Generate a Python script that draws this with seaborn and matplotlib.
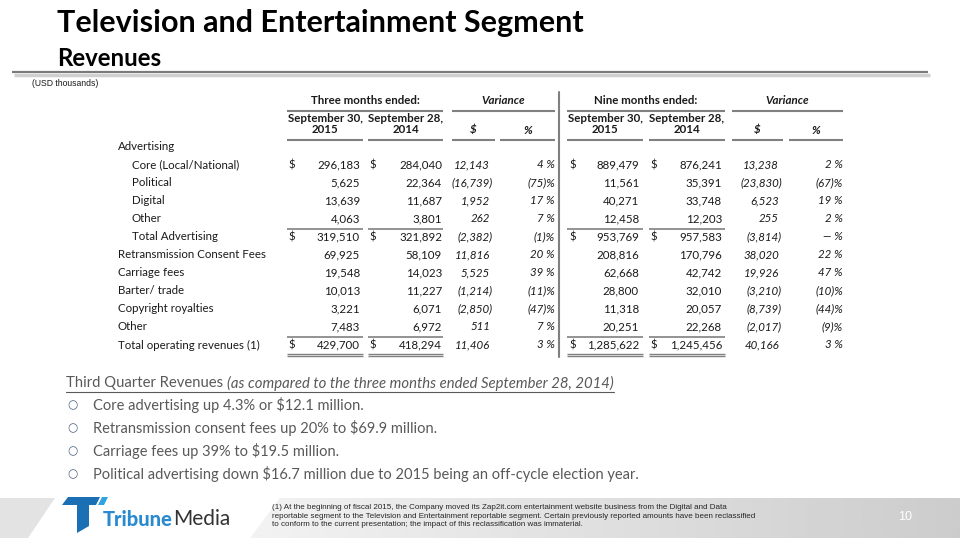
import numpy as np
import matplotlib
matplotlib.use("Agg")
import matplotlib.pyplot as plt
from matplotlib.patches import Polygon
import seaborn as sns

sns.set_theme(style="white")
plt.rcParams['font.family'] = ['Lato', 'DejaVu Sans']

# ---- data ----
advertising_items = ['Core (Local/National)', 'Political', 'Digital', 'Other', 'Total Advertising']
other_items = ['Retransmission Consent Fees', 'Carriage fees', 'Barter/ trade',
               'Copyright royalties', 'Other', 'Total operating revenues (1)']

q3_2015 = [296183, 5625, 13639, 4063, 319510, 69925, 19548, 10013, 3221, 7483, 429700]
q3_2014 = [284040, 22364, 11687, 3801, 321892, 58109, 14023, 11227, 6071, 6972, 418294]
q3_var = [12143, -16739, 1952, 262, -2382, 11816, 5525, -1214, -2850, 511, 11406]
q3_pct = [4, -75, 17, 7, -1, 20, 39, -11, -47, 7, 3]

ytd_2015 = [889479, 11561, 40271, 12458, 953769, 208816, 62668, 28800, 11318, 20251, 1285622]
ytd_2014 = [876241, 35391, 33748, 12203, 957583, 170796, 42742, 32010, 20057, 22268, 1245456]
ytd_var = [13238, -23830, 6523, 255, -3814, 38020, 19926, -3210, -8739, -2017, 40166]
ytd_pct = [2, -67, 19, 2, 0, 22, 47, -10, -44, -9, 3]

period_titles = ['Three months ended:', 'Nine months ended:']
col_titles = ['September 30,\n2015', 'September 28,\n2014', '$', '%']

bullet_heading = 'Third Quarter Revenues '
bullet_heading_note = '(as compared to the three months ended September 28, 2014)'
bullets = ['Core advertising up 4.3% or $12.1 million.',
           'Retransmission consent fees up 20% to $69.9 million.',
           'Carriage fees up 39% to $19.5 million.',
           'Political advertising down $16.7 million due to 2015 being an off-cycle election year.']

footnote = ('(1) At the beginning of fiscal 2015, the Company moved its Zap2it.com entertainment website business from the Digital and Data\n'
            'reportable segment to the Television and Entertainment reportable segment. Certain previously reported amounts have been reclassified\n'
            'to conform to the current presentation; the impact of this reclassification was immaterial.')

# ---- canvas ----
fig = plt.figure(figsize=(9.6, 5.4), dpi=100)
ax = fig.add_axes([0, 0, 1, 1])
ax.set_xlim(0, 960)
ax.set_ylim(540, 0)
ax.axis('off')

TXT = '#1a1a1a'
LINE = '#808080'

# title
ax.text(57, 23, 'Television and Entertainment Segment', fontsize=22, fontweight='bold', va='center', color='black')
ax.text(57, 58, 'Revenues', fontsize=17.3, fontweight='bold', va='center', color='black')
ax.plot([12, 928], [72, 72], color='#7a7a7a', lw=1.6, solid_capstyle='butt')
ax.plot([14, 930], [74.5, 74.5], color='#d0d0d0', lw=2.5, solid_capstyle='butt')
ax.text(32, 84, '(USD thousands)', fontsize=6.2, family=['Liberation Sans'], va='center', color=TXT)


def fmt_num(v):
    return f'({abs(v):,})' if v < 0 else f'{v:,}'


def fmt_pct(v):
    if v == 0:
        return '\u2014 %'
    if v < 0:
        return f'({abs(v)})%'
    return f'{v} %'


row_labels = ['Advertising'] + advertising_items + other_items
n_ad = len(advertising_items)
y0, dy = 147, 18
fs = 8.3

for i, lab in enumerate(row_labels):
    indent = 14 if 1 <= i <= n_ad else 0
    ax.text(118 + indent, y0 + i * dy, lab, fontsize=fs, va='center', color=TXT)

dollar_rows = [0] + [i for i, lab in enumerate(advertising_items + other_items) if lab.startswith('Total')]

panels = [
    (q3_2015, q3_2014, q3_var, q3_pct, dict(d1=288, v1=360, d2=369, v2=442, var=490, pct=555,
                                             lines=[(287, 363), (368, 443), (452, 495), (500, 555)],
                                             plines=[(287, 443), (452, 555)])),
    (ytd_2015, ytd_2014, ytd_var, ytd_pct, dict(d1=569, v1=639, d2=650, v2=722, var=779, pct=843,
                                                lines=[(567, 643), (649, 725), (732, 783), (789, 843)],
                                                plines=[(567, 725), (732, 843)])),
]

for p, (c15, c14, var, pct, g) in enumerate(panels):
    # headers
    (a0, a1), (b0, b1) = g['plines']
    ax.text((a0 + a1) / 2, 101, period_titles[p], fontsize=fs, fontweight='bold', ha='center', va='center', color=TXT)
    ax.text((b0 + b1) / 2, 101, 'Variance', fontsize=fs, fontweight='bold', style='italic', ha='center', va='center', color=TXT)
    for x0, x1 in g['plines']:
        ax.plot([x0, x1], [111, 111], color=LINE, lw=1.5, solid_capstyle='butt')
    for k, (x0, x1) in enumerate(g['lines']):
        ax.plot([x0, x1], [140, 140], color=LINE, lw=1.5, solid_capstyle='butt')
        if k < 2:
            ax.text((x0 + x1) / 2, 124, col_titles[k], fontsize=fs, fontweight='bold', ha='center', va='center',
                    color=TXT, linespacing=0.95)
        else:
            ax.text((x0 + x1) / 2, 130, col_titles[k], fontsize=fs, fontweight='bold', style='italic',
                    ha='center', va='center', color=TXT)
    # values
    for j in range(len(c15)):
        y = y0 + (j + 1) * dy
        if j in dollar_rows:
            ax.text(g['d1'], y, '$', fontsize=fs, va='center', color=TXT)
            ax.text(g['d2'], y, '$', fontsize=fs, va='center', color=TXT)
        ax.text(g['v1'], y, fmt_num(c15[j]), fontsize=fs, ha='right', va='center', color=TXT)
        ax.text(g['v2'], y, fmt_num(c14[j]), fontsize=fs, ha='right', va='center', color=TXT)
        xv = g['var'] + (3 if var[j] < 0 else 0)
        ax.text(xv, y, fmt_num(var[j]), fontsize=fs, style='italic', ha='right', va='center', color=TXT)
        ax.text(g['pct'], y, fmt_pct(pct[j]), fontsize=fs, style='italic', ha='right', va='center', color=TXT)
    # rules in body
    for x0, x1 in g['lines'][:2]:
        ax.plot([x0, x1], [y0 + n_ad * dy - 8, y0 + n_ad * dy - 8], color=LINE, lw=1.2, solid_capstyle='butt')
        yt = y0 + len(row_labels) * dy - dy
        ax.plot([x0, x1], [yt - 8, yt - 8], color=LINE, lw=1.2, solid_capstyle='butt')
        ax.plot([x0, x1], [yt + 8.5, yt + 8.5], color=LINE, lw=1.0, solid_capstyle='butt')
        ax.plot([x0, x1], [yt + 10.5, yt + 10.5], color=LINE, lw=1.0, solid_capstyle='butt')

ax.plot([559, 559], [92, 357], color=LINE, lw=1.5)

# bullets
GRAY = '#595959'
bfs = 10.7
h1 = ax.text(66, 383, bullet_heading, fontsize=bfs, va='center', color=GRAY)
fig.canvas.draw()
r = fig.canvas.get_renderer()
inv = ax.transData.inverted()
bb = h1.get_window_extent(r)
x_end1 = inv.transform((bb.x1, bb.y0))[0]
h2 = ax.text(x_end1, 383, bullet_heading_note, fontsize=bfs, style='italic', va='center', color=GRAY)
bb2 = h2.get_window_extent(r)
x_end2 = inv.transform((bb2.x1, bb2.y0))[0]
ax.plot([66, x_end2], [391.5, 391.5], color=GRAY, lw=0.8)
for k, b in enumerate(bullets):
    yb = 405 + k * 23
    ax.text(72, yb, '\u25cb', fontsize=8.5, va='center', ha='center', color='#4d6580', family=['DejaVu Sans'])
    ax.text(93, yb, b, fontsize=10.5, va='center', color=GRAY)

# footer band
grad = np.linspace(0.95, 0.80, 256)[None, :]
im = ax.imshow(np.repeat(grad, 2, axis=0), cmap='gray', vmin=0, vmax=1, extent=[250, 960, 538, 498],
               aspect='auto', zorder=0)
band = Polygon([(250, 538), (280, 498), (960, 498), (960, 538)], closed=True, transform=ax.transData)
im.set_clip_path(band)
ax.add_patch(Polygon([(0, 498), (55, 498), (28, 538), (0, 538)], closed=True, color='#e3e3e3', lw=0, zorder=0))
ax.set_xlim(0, 960)
ax.set_ylim(540, 0)

# logo
ax.add_patch(Polygon([(62, 505), (68, 497), (100, 497), (96, 505)], closed=True, color='#1b6fb5', lw=0))
ax.add_patch(Polygon([(98, 505), (102, 497), (108, 497), (104, 505)], closed=True, color='#2ea3dd', lw=0))
ax.add_patch(Polygon([(77, 505), (89, 505), (89, 526), (77, 533)], closed=True, color='#1b6fb5', lw=0))
tb = ax.text(103, 519, 'Tribune', fontsize=14.5, fontweight='black', va='center', color='#2a8ad0')
fig.canvas.draw()
bt = tb.get_window_extent(fig.canvas.get_renderer())
xt = ax.transData.inverted().transform((bt.x1, bt.y0))[0]
ax.text(xt + 0.5, 519, 'Media', fontsize=15, va='center', color='#333333')

ax.text(272, 516, footnote, fontsize=5.8, family=['Liberation Sans Narrow', 'Liberation Sans'], va='center',
        color='#262626', linespacing=1.25)
ax.text(905, 517, '10', fontsize=9, va='center', ha='center', color='white', family=['Liberation Sans'])

fig.savefig('out.png', dpi=100)
